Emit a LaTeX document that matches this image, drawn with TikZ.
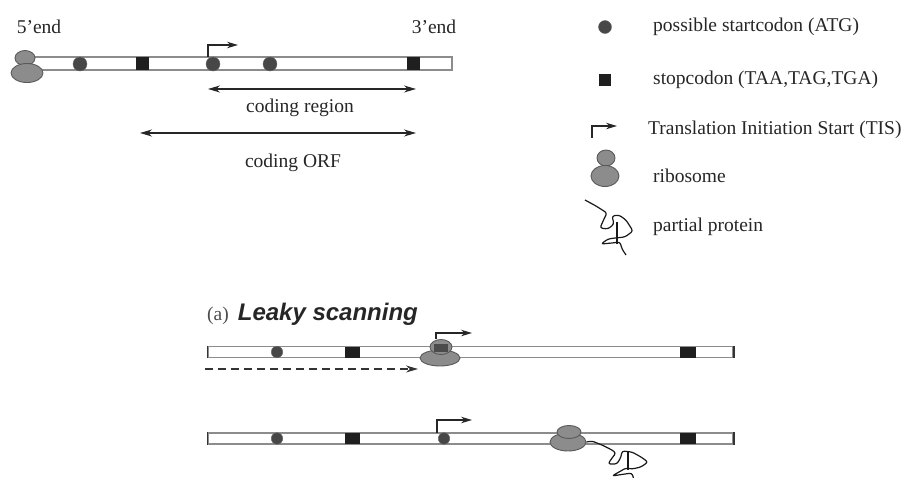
\documentclass[tikz,border=0pt]{standalone}
\usepackage{fontspec}
\setmainfont{Liberation Serif}
\setsansfont{Liberation Sans}
\usetikzlibrary{arrows.meta,shapes.geometric}

\begin{document}
\begin{tikzpicture}[x=1pt,y=-1pt,
		strand/.style={draw=black!45,fill=white,line width=1.2pt,inner sep=0pt},
		endbar/.style={draw=black!80,line width=1.8pt},
		atg/.style={ellipse,fill=black!72,draw=black!60,inner sep=0pt,minimum width=#1,minimum height=#1},
		atg/.default=14pt,
		stopc/.style={rectangle,fill=black!88,inner sep=0pt,minimum width=#1,minimum height=#1},
		stopc/.default=13pt,
		ribo/.style={ellipse,draw=black!65,fill=black!45,line width=.9pt,inner sep=0pt},
		tis/.style={draw=black!85,line width=1.1pt,-{Stealth[length=11pt,width=6.5pt]}},
		region/.style={draw=black!85,line width=1.1pt,{Stealth[length=12pt,width=7pt]}-{Stealth[length=12pt,width=7pt]}},
		scan/.style={draw=black!80,line width=1.1pt,dash pattern=on 8pt off 5pt,-{Stealth[length=12pt,width=7pt]}},
		protein/.style={draw=black!90,line width=1.2pt,line join=round,rounded corners=2.5pt},
		txt/.style={font=\fontsize{19.5}{22}\selectfont,text=black!85,inner sep=0pt},
		leg/.style={txt,anchor=west}]
	\useasboundingbox (0,0) rectangle (908,477);

	% mRNA with its codons
	\node[strand,minimum width=432pt,minimum height=13pt] (s0) at (236,63.5) {};
	\node[atg] (a01) at (80,64) {};
	\node[stopc] (b01) at (142,63.5) {};
	\node[atg] (a02) at (213,64) {};
	\node[atg] (a03) at (270,64) {};
	\node[stopc] (b02) at (413,63.5) {};
	\node[ribo,minimum width=20pt,minimum height=15pt] (r0t) at (25,58) {};
	\node[ribo,minimum width=32pt,minimum height=19pt] (r0b) at (27,73) {};
	\node[txt] (e5) at (39,27) {5'end};
	\node[txt] (e3) at (434,27) {3'end};
	\coordinate (t0) at (238,45);
	\draw[tis] ([xshift=-5pt]a02.north) |- (t0);

	% coding region and ORF
	\coordinate (cr1) at (208,89);
	\coordinate (cr2) at (416,89);
	\draw[region] (cr1) -- (cr2);
	\node[txt] (crl) at (300,108) {coding region};
	\coordinate (orf1) at (140,133);
	\coordinate (orf2) at (416,133);
	\draw[region] (orf1) -- (orf2);
	\node[txt] (orfl) at (293,163) {coding ORF};

	% legend
	\node[atg=13pt] (la) at (605,27) {};
	\node[leg] (lat) at (653,27) {possible startcodon (ATG)};
	\node[stopc=12pt] (ls) at (605,80) {};
	\node[leg] (lst) at (653,80) {stopcodon (TAA,TAG,TGA)};
	\coordinate (lt1) at (592,138);
	\coordinate (lt2) at (617,126);
	\draw[tis] (lt1) |- (lt2);
	\node[leg] (ltt) at (648,130) {Translation Initiation Start (TIS)};
	\node[ribo,minimum width=18pt,minimum height=16pt] (lrt) at (606,158) {};
	\node[ribo,minimum width=28pt,minimum height=21pt] (lrb) at (605,176) {};
	\node[leg] (lrl) at (653,176) {ribosome};
	\draw[protein] (585,200) -- (596,206) -- (607,213) -- (604,219) -- (600,228) -- (608,229) -- (614,224) -- (612,216) -- (619,215) -- (626,220) -- (633,231) -- (625,237) -- (615,238) -- (608,239) -- (601,244) -- (612,243) -- (620,242) -- (622,249) -- (626,255);
	\draw[protein] (617,222) -- (617,244);
	\node[leg] (lpl) at (653,227) {partial protein};

	% (a) leaky scanning
	\node[txt,anchor=west] (lk) at (207,314) {{\color{black!70}(a)}\hspace{9pt}{\sffamily\bfseries\itshape\fontsize{24}{27}\selectfont Leaky scanning}};

	\node[strand,minimum width=525pt,minimum height=11pt] (s1) at (470.5,352) {};
	\draw[endbar] (s1.north west) -- (s1.south west);
	\draw[endbar] (s1.north east) -- (s1.south east);
	\node[atg=11.5pt] (a11) at (277,352) {};
	\node[stopc=11pt,minimum width=15pt] (b11) at (352,352) {};
	\node[stopc=11pt,minimum width=16pt] (b12) at (688,352) {};
	\node[ribo,minimum width=40pt,minimum height=16pt] (r1b) at (440,358) {};
	\node[ribo,minimum width=22pt,minimum height=15pt] (r1t) at (441,347) {};
	\node[rectangle,fill=black!75,opacity=.85,inner sep=0pt,minimum width=14pt,minimum height=8pt] (a12) at (441,348) {};
	\coordinate (t1) at (472,333);
	\draw[tis] ([xshift=-5pt]r1t.north) |- (t1);
	\coordinate (d1) at (205,369);
	\coordinate (d2) at (418,369);
	\draw[scan] (d1) -- (d2);

	\node[strand,minimum width=525pt,minimum height=11pt] (s2) at (470.5,438.5) {};
	\draw[endbar] (s2.north west) -- (s2.south west);
	\draw[endbar] (s2.north east) -- (s2.south east);
	\node[atg=11.5pt] (a21) at (277,438.5) {};
	\node[stopc=11pt,minimum width=15pt] (b21) at (352,438.5) {};
	\node[atg=11.5pt] (a22) at (444,438.5) {};
	\node[stopc=11pt,minimum width=16pt] (b22) at (688,438.5) {};
	\node[ribo,minimum width=36pt,minimum height=18pt] (r2b) at (568,442) {};
	\node[ribo,minimum width=24pt,minimum height=13pt] (r2t) at (569,432) {};
	\coordinate (t2) at (472,420);
	\draw[tis] ([xshift=-7pt]a22.north) |- (t2);
	\draw[protein] (r2b.east) -- (592,441) -- (602,445) -- (612,450) -- (616,453) -- (612,458) -- (608,464) -- (617,464) -- (621,457) -- (622,451) -- (632,452) -- (641,457) -- (648,462) -- (641,467) -- (632,469) -- (626,468) -- (619,472) -- (612,476) -- (625,474) -- (632,473) -- (634,480);
	\draw[protein] (628,452) -- (628,470);
\end{tikzpicture}
\end{document}
